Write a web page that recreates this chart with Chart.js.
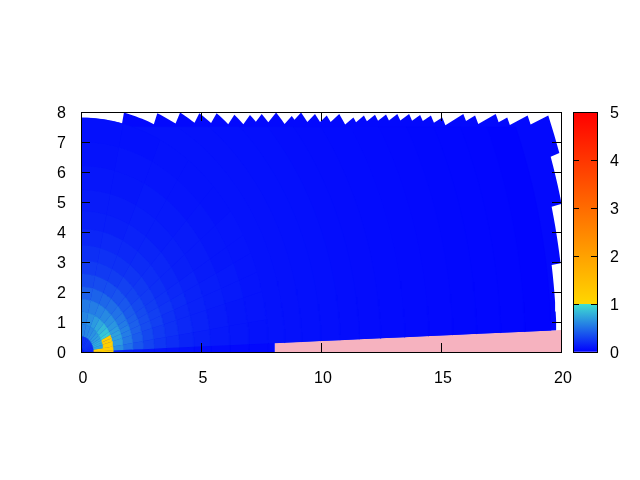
<!DOCTYPE html>
<html>
<head>
<meta charset="utf-8">
<title>Polar colour map</title>
<script src="https://cdn.jsdelivr.net/npm/chart.js@4"></script>
<style>
  html, body { margin: 0; background: #fff; }
  canvas { position: absolute; top: 0; }
  #field { left: 0; }
  #colorbar { left: 560px; }
</style>
</head>
<body>
<canvas id="field" width="640" height="480"></canvas>
<canvas id="colorbar" width="80" height="480"></canvas>
<script>
// ends of the outer radial bands (data units), going counter clockwise
const tipX = [19.61, 19.61, 19.57, 19.47, 18.61, 17.76, 17.28, 16.42, 15.93, 15.05, 14.58, 14.13, 13.67, 13.18, 12.71, 12.25, 11.79, 11.35, 10.76, 10.24, 9.75, 9.17, 8.78, 8.13, 7.53, 7.04, 6.39, 5.65, 4.93, 4.13, 3.18, 1.79, 0];
const tipY = [2.90, 4.84, 6.51, 7.88, 7.88, 7.82, 7.93, 7.88, 7.93, 7.82, 7.88, 7.90, 7.93, 7.93, 7.92, 7.91, 7.88, 7.82, 7.93, 7.88, 7.93, 7.98, 7.87, 7.98, 7.93, 7.90, 7.91, 7.96, 7.96, 7.98, 7.96, 7.98, 7.81];

// polar cells near the origin
const ringEdges = [0.13, 0.51, 0.92, 1.34, 1.76, 2.17, 2.6, 3.05, 3.55, 4.1, 4.7, 5.4, 6.2, 7.0, 7.8];
const angleEdges = [0, 2.1, 8, 15, 20, 25, 30, 37, 45, 55, 65, 77, 90];
const cellValues = [
  [0.10, 0.18, 0.21, 0.22, 0.23, 0.24, 0.25, 0.26, 0.26, 0.25, 0.24, 0.23],
  [1.15, 1.15, 0.74, 0.77, 0.78, 0.76, 0.72, 0.69, 0.65, 0.62, 0.60, 0.58],
  [1.15, 1.15, 1.15, 1.15, 1.15, 0.92, 0.88, 0.82, 0.75, 0.69, 0.64, 0.60],
  [0.15, 0.63, 0.69, 0.71, 0.72, 0.70, 0.67, 0.64, 0.61, 0.58, 0.56, 0.55],
  [0.13, 0.50, 0.54, 0.56, 0.57, 0.55, 0.53, 0.51, 0.48, 0.46, 0.44, 0.43],
  [0.11, 0.38, 0.41, 0.43, 0.43, 0.42, 0.40, 0.39, 0.37, 0.35, 0.34, 0.33],
  [0.10, 0.30, 0.32, 0.34, 0.34, 0.33, 0.32, 0.30, 0.29, 0.27, 0.26, 0.26],
  [0.09, 0.24, 0.26, 0.28, 0.28, 0.27, 0.26, 0.25, 0.23, 0.22, 0.22, 0.21],
  [0.08, 0.20, 0.22, 0.22, 0.23, 0.22, 0.21, 0.20, 0.19, 0.18, 0.18, 0.17],
  [0.07, 0.16, 0.18, 0.18, 0.19, 0.18, 0.17, 0.17, 0.16, 0.15, 0.14, 0.14],
  [0.06, 0.14, 0.15, 0.15, 0.15, 0.15, 0.14, 0.14, 0.13, 0.13, 0.12, 0.12],
  [0.05, 0.11, 0.12, 0.13, 0.13, 0.12, 0.12, 0.12, 0.11, 0.11, 0.10, 0.10],
  [0.04, 0.10, 0.10, 0.11, 0.11, 0.10, 0.10, 0.10, 0.09, 0.09, 0.09, 0.08],
  [0.04, 0.08, 0.09, 0.09, 0.09, 0.09, 0.09, 0.08, 0.08, 0.08, 0.07, 0.07]
];

// rings further out, cut off just under the notches along the top
const farEdges = [7.8, 8.5, 9.2, 10, 10.8, 11.6, 12.5, 13.5, 14.5, 15.5, 16.5, 17.5, 18.5, 19.6];
const farValues = [0.08, 0.075, 0.07, 0.065, 0.06, 0.055, 0.05, 0.045, 0.04, 0.035, 0.03, 0.025, 0.02];
const farTop = 7.5;
const fieldValue = 0.04;

// low angle wedge: blue up to stripEnd, pink after it
const stripAngle = 2.1;
const stripEnd = 8.08;
const pinkEnd = 20.05;
const pinkColor = '#f6b2bf';

const xTicks = [0, 5, 10, 15, 20];
const yTicks = [0, 1, 2, 3, 4, 5, 6, 7, 8];
const zTicks = [0, 1, 2, 3, 4, 5];
const zLimits = [0, 5];

// colour map: value, colour
const stopValues = [0, 1, 1, 5];
const stopColors = [[0, 0, 255], [64, 224, 208], [255, 215, 0], [255, 0, 0]];

Chart.defaults.font.family = '"Liberation Sans", Arial, sans-serif';
Chart.defaults.font.size = 16;
Chart.defaults.color = '#000';

function colorOf(z) {
  for (let i = 0; i < stopValues.length - 1; i++) {
    const a = stopValues[i], b = stopValues[i + 1];
    if (b > a && z <= b) {
      const t = Math.max(0, (z - a) / (b - a));
      const c = stopColors[i].map((v, k) => Math.round(v + (stopColors[i + 1][k] - v) * t));
      return `rgb(${c[0]},${c[1]},${c[2]})`;
    }
  }
  return 'rgb(255,0,0)';
}

function polar(r, deg) {
  const a = deg * Math.PI / 180;
  return { x: r * Math.cos(a), y: r * Math.sin(a) };
}

function arc(r, from, to) {
  const n = Math.max(2, Math.ceil(Math.abs(to - from)));
  const pts = [];
  for (let i = 0; i <= n; i++) pts.push(polar(r, from + (to - from) * i / n));
  return pts;
}

function sector(r1, r2, a1, a2) {
  return arc(r2, a1, a2).concat(arc(r1, a2, a1));
}

// angle at which a ring of radius r reaches the cut off line
function topAngle(r) {
  return Math.asin(Math.min(1, farTop / r)) * 180 / Math.PI;
}

function shape(points, color, line) {
  return {
    data: points,
    showLine: true,
    fill: 'shape',
    backgroundColor: color,
    borderColor: color,
    borderWidth: line,
    pointRadius: 0,
    tension: 0
  };
}

// whole blue field, outer edge stepping from band to band
function outline() {
  let pts = [{ x: 0, y: 0 }, { x: stripEnd, y: 0 }, polar(stripEnd, stripAngle)];
  let from = stripAngle;
  tipX.forEach((x, i) => {
    const r = Math.hypot(x, tipY[i]);
    const to = Math.atan2(tipY[i], x) * 180 / Math.PI;
    pts = pts.concat(arc(r, from, to));
    from = to;
  });
  pts.push({ x: 0, y: 0 });
  return pts;
}

const shapes = [
  shape(sector(stripEnd, pinkEnd, 0, stripAngle), pinkColor, 0),
  shape(outline(), colorOf(fieldValue), 0)
];
for (let i = farValues.length - 1; i >= 0; i--) {
  const r1 = farEdges[i], r2 = farEdges[i + 1];
  const pts = arc(r2, stripAngle, topAngle(r2)).concat(arc(r1, topAngle(r1), stripAngle));
  shapes.push(shape(pts, colorOf(farValues[i]), 0.6));
}
for (let i = cellValues.length - 1; i >= 0; i--) {
  cellValues[i].forEach((z, j) => {
    const pts = sector(ringEdges[i], ringEdges[i + 1], angleEdges[j], angleEdges[j + 1]);
    shapes.push(shape(pts, colorOf(z), 0.6));
  });
}
// first dataset is painted last by Chart.js
shapes.reverse();

function fixedSize(size) {
  return scale => {
    if (scale.isHorizontal()) scale.height = size;
    else scale.width = size;
  };
}

function frameAxis(position, limits, step, size, showLabels, tickLen, pad) {
  const vertical = position === 'left' || position === 'right';
  return {
    type: 'linear',
    position,
    min: limits[0],
    max: limits[limits.length - 1],
    afterFit: fixedSize(size),
    border: { display: true, color: '#000', width: 1, z: 1 },
    grid: { drawOnChartArea: false, drawTicks: true, tickLength: tickLen, tickColor: '#000', tickWidth: 1, z: 1 },
    ticks: {
      display: showLabels,
      stepSize: step,
      padding: pad,
      maxRotation: 0,
      autoSkip: false,
      labelOffset: vertical ? 0 : 2,
      // an empty first line with a tight line height drops the digits 2px onto the tick
      font: vertical ? { lineHeight: 0.25 } : {},
      callback: v => vertical ? ['', String(v)] : String(v)
    }
  };
}

new Chart(document.getElementById('field'), {
  type: 'scatter',
  data: { datasets: shapes },
  options: {
    responsive: false,
    animation: false,
    events: [],
    layout: { padding: 0 },
    plugins: { legend: { display: false }, tooltip: { enabled: false } },
    scales: {
      x: frameAxis('bottom', xTicks, xTicks[1] - xTicks[0], 128, true, -9, 26),
      y: frameAxis('left', yTicks, yTicks[1] - yTicks[0], 81, true, -9, 24),
      x2: frameAxis('top', xTicks, xTicks[1] - xTicks[0], 112, false, -9, 0),
      y2: frameAxis('right', yTicks, yTicks[1] - yTicks[0], 79, false, -9, 0)
    }
  }
});

new Chart(document.getElementById('colorbar'), {
  type: 'bar',
  data: {
    labels: ['z'],
    datasets: [{
      data: [zLimits[1]],
      barPercentage: 1,
      categoryPercentage: 1,
      backgroundColor(ctx) {
        const area = ctx.chart.chartArea;
        if (!area) return 'rgb(0,0,255)';
        const g = ctx.chart.ctx.createLinearGradient(0, area.bottom, 0, area.top);
        stopValues.forEach((z, i) => {
          const c = stopColors[i];
          g.addColorStop((z - zLimits[0]) / (zLimits[1] - zLimits[0]), `rgb(${c[0]},${c[1]},${c[2]})`);
        });
        return g;
      }
    }]
  },
  options: {
    responsive: false,
    animation: false,
    events: [],
    layout: { padding: 0 },
    plugins: { legend: { display: false }, tooltip: { enabled: false } },
    scales: {
      x: { display: false },
      top: { position: 'top', afterFit: fixedSize(112), display: true, border: { color: '#000', z: 1 }, grid: { display: false }, ticks: { display: false } },
      bottom: { position: 'bottom', afterFit: fixedSize(128), display: true, border: { color: '#000', z: 1 }, grid: { display: false }, ticks: { display: false } },
      y: frameAxis('left', zLimits, zTicks[1] - zTicks[0], 13, false, -6, 0),
      y2: frameAxis('right', zLimits, zTicks[1] - zTicks[0], 43, true, -6, 19)
    }
  }
});
</script>
</body>
</html>
